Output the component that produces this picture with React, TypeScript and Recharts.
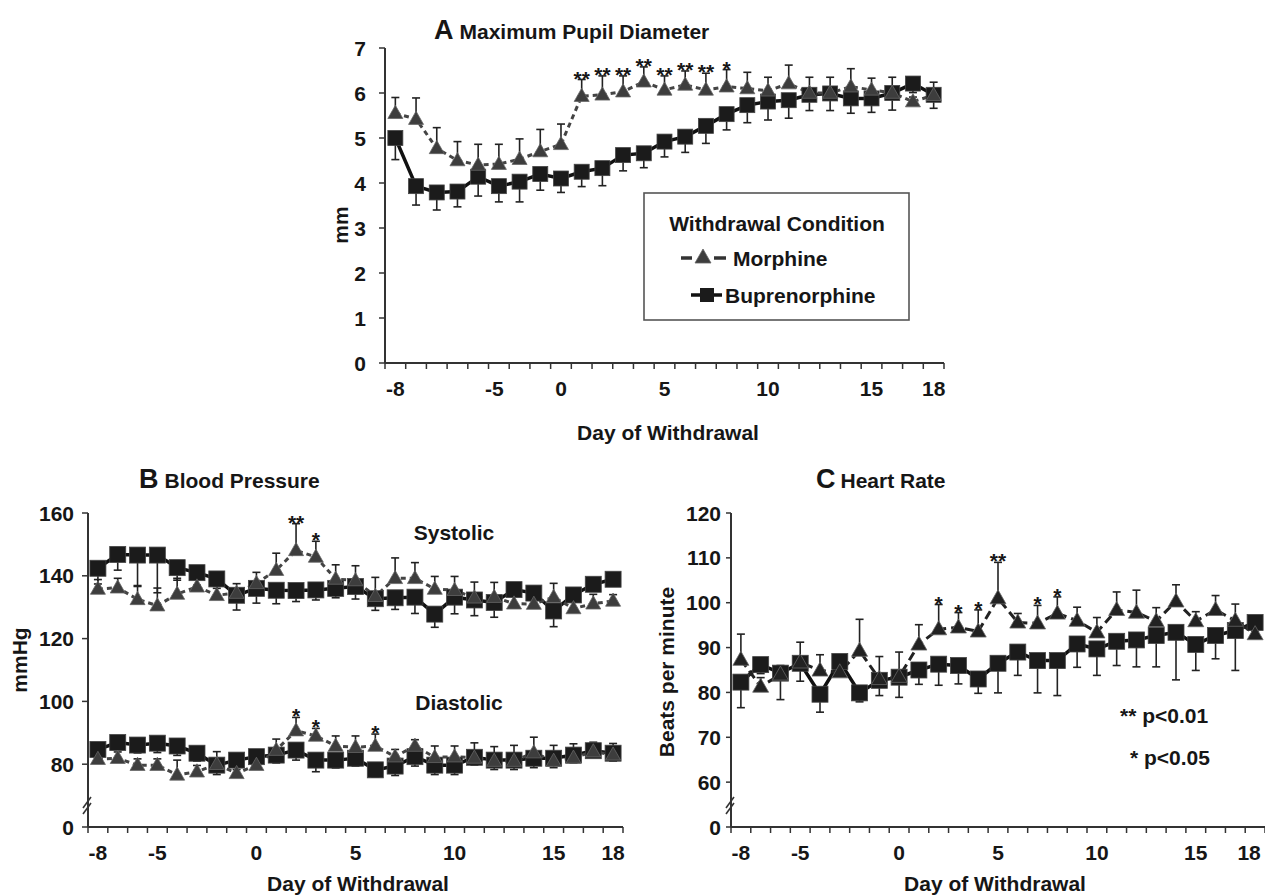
import React from "react";
import { LineChart, Line, XAxis, YAxis, ErrorBar, LabelList } from "recharts";

const FONT = '"Liberation Sans", Arial, Helvetica, sans-serif';
const INK = "#161616";
const AXIS = "#333";

// ---------- shared x categories ----------
const DAYS = [-8, -7, -6, -5, -4, -3, -2, -1, 0, 1, 2, 3, 4, 5, 6, 7, 8, 9, 10, 11, 12, 13, 14, 15, 16, 17, 18];
const X_LABEL_DAYS = [-8, -5, 0, 5, 10, 15, 18];

// ---------- Panel A: Maximum pupil diameter (mm) ----------
const PUPIL_TICKS = [0, 1, 2, 3, 4, 5, 6, 7];
const PUPIL_TICK_LABELS = ["0", "1", "2", "3", "4", "5", "6", "7"];
const pupilMorphine = [5.55, 5.42, 4.77, 4.5, 4.4, 4.42, 4.53, 4.7, 4.86, 5.93, 5.96, 6.03, 6.25, 6.07, 6.18, 6.07, 6.14, 6.1, 6.05, 6.21, 6.0, 6.0, 6.14, 6.07, 6.0, 5.81, 5.95];
const pupilMorphineSE = [0.35, 0.47, 0.46, 0.42, 0.46, 0.44, 0.45, 0.49, 0.45, 0.37, 0.42, 0.35, 0.33, 0.31, 0.31, 0.37, 0.38, 0.36, 0.3, 0.41, 0.35, 0.35, 0.4, 0.26, 0.35, 0.1, 0.29];
const pupilBup = [5.0, 3.93, 3.79, 3.81, 4.14, 3.93, 4.03, 4.2, 4.1, 4.25, 4.33, 4.62, 4.66, 4.92, 5.03, 5.27, 5.53, 5.73, 5.81, 5.84, 5.96, 5.99, 5.88, 5.88, 6.0, 6.21, 5.96];
const pupilBupSE = [0.48, 0.42, 0.39, 0.34, 0.43, 0.35, 0.45, 0.36, 0.31, 0.33, 0.39, 0.35, 0.32, 0.34, 0.35, 0.39, 0.35, 0.39, 0.41, 0.4, 0.35, 0.38, 0.33, 0.31, 0.38, 0.2, 0.3];
const pupilSig = ["", "", "", "", "", "", "", "", "", "**", "**", "**", "**", "**", "**", "**", "*", "", "", "", "", "", "", "", "", "", ""];

// ---------- Panel B: Blood pressure (mmHg), broken axis: lowest tick shows "0" ----------
const BP_TICKS = [60, 80, 100, 120, 140, 160];
const BP_TICK_LABELS = ["0", "80", "100", "120", "140", "160"];
const sysMorphine = [135.8, 136.2, 132.5, 130.5, 134.2, 136.5, 133.8, 134.5, 137.6, 141.8, 148.1, 146, 139, 138.5, 133.5, 139.2, 139.2, 135.8, 135.4, 133, 133.2, 131.1, 131, 133.2, 129.6, 131.1, 132];
const sysMorphineSE = [3, 3, 4.4, 5.6, 5, 3, 3, 3, 3.5, 5.4, 8.5, 5, 4.5, 4.7, 6, 6.5, 5, 4, 4.4, 5, 4.7, 3, 3, 4.4, 3, 3, 2];
const sysBup = [142.4, 146.8, 146.6, 146.6, 142.6, 141, 139, 133.8, 136, 135.4, 135.3, 135.5, 136, 136.6, 132.7, 133, 133.2, 127.8, 133.2, 132.3, 131.5, 135.6, 134.5, 128.8, 133.9, 137.3, 138.9];
const sysBupSE = [5, 5, 10, 12, 4, 4, 3, 4.7, 4.7, 4.3, 3.5, 3.2, 3, 4, 3.7, 3.7, 5.2, 4.2, 5.3, 5, 4.7, 2, 2.3, 5, 2, 1, 2];
const sysSig = ["", "", "", "", "", "", "", "", "", "", "**", "*", "", "", "", "", "", "", "", "", "", "", "", "", "", "", ""];
const diaMorphine = [81.6, 81.9, 79.7, 79.7, 76.6, 77.6, 80, 77.1, 79.7, 84.5, 90.7, 89, 85.8, 85.4, 85.8, 82.4, 85.8, 82.2, 82.4, 82, 81, 81, 83.7, 81, 82, 84, 83];
const diaMorphineSE = [2, 2, 2, 2, 4.7, 2, 4, 2, 2, 3.5, 4.2, 2.4, 3.2, 3.6, 3.8, 2.3, 2, 3.6, 3.4, 4.8, 4.6, 5, 4.9, 5, 4.5, 3, 3.6];
const diaBup = [84.7, 86.9, 86.1, 86.7, 85.8, 83.5, 79.7, 81.3, 82.4, 82.9, 84.5, 81.3, 81.3, 81.9, 78.2, 79.4, 82.4, 79.7, 79.7, 82.2, 81.3, 81.3, 81.9, 81.9, 82.9, 84.3, 83.5];
const diaBupSE = [2.5, 2, 2.5, 3, 3, 2.5, 3, 3, 2.5, 2.5, 3.2, 3.7, 2.5, 2.5, 2.2, 3, 3, 3, 3, 2.5, 3, 3, 3, 3, 2.5, 2, 2.5];
const diaSig = ["", "", "", "", "", "", "", "", "", "", "*", "*", "", "", "*", "", "", "", "", "", "", "", "", "", "", "", ""];

// ---------- Panel C: Heart rate (beats per minute), broken axis ----------
const HR_TICKS = [50, 60, 70, 80, 90, 100, 110, 120];
const HR_TICK_LABELS = ["0", "60", "70", "80", "90", "100", "110", "120"];
const hrMorphine = [87.3, 81.3, 84, 86.7, 84.9, 84.5, 89.3, 83, 83.5, 90.7, 94.1, 94.5, 93.6, 101, 95.6, 95.4, 97.6, 96, 93.4, 98.4, 97.8, 95.9, 100.3, 95.9, 98.4, 96, 93];
const hrMorphineSE = [5.7, 2, 2, 4.5, 3.5, 2, 7, 5, 5.5, 4.4, 5.5, 3.3, 4.8, 8, 2, 4, 3.7, 3, 3.3, 4, 5, 3, 3.7, 2.1, 3.2, 3.7, 1.5];
const hrBup = [82.3, 86.2, 84.3, 86.5, 79.6, 86.9, 79.9, 82.7, 83.4, 85, 86.3, 86, 83, 86.5, 89, 87.1, 87.1, 90.8, 89.7, 91.4, 91.7, 92.7, 93.4, 90.7, 92.7, 93.8, 95.6];
const hrBupSE = [5.7, 2, 5.9, 4, 4, 2, 2, 3.4, 4.5, 3.2, 4.7, 4.1, 3.2, 6.6, 5.2, 7.2, 7.8, 5.2, 5.9, 5.4, 6, 7, 10.6, 5.8, 5.2, 8.9, 2];
const hrSig = ["", "", "", "", "", "", "", "", "", "", "*", "*", "*", "**", "", "*", "*", "", "", "", "", "", "", "", "", "", ""];

// ---------- table builders ----------
const buildRows = (mor: number[], morSE: number[], bup: number[], bupSE: number[], sig: string[], p: string) =>
  DAYS.map((d, i) => ({
    day: d,
    [`${p}mor`]: mor[i],
    [`${p}morErr`]: [0, morSE[i]],
    [`${p}morCap`]: mor[i] + morSE[i],
    [`${p}sig`]: sig[i],
    [`${p}bup`]: bup[i],
    [`${p}bupErr`]: [bupSE[i], 0],
  }));

const pupilRows = buildRows(pupilMorphine, pupilMorphineSE, pupilBup, pupilBupSE, pupilSig, "");
const sysRows = buildRows(sysMorphine, sysMorphineSE, sysBup, sysBupSE, sysSig, "s");
const diaRows = buildRows(diaMorphine, diaMorphineSE, diaBup, diaBupSE, diaSig, "d");
const bpRows = sysRows.map((r, i) => ({ ...r, ...diaRows[i] }));
const hrRows = buildRows(hrMorphine, hrMorphineSE, hrBup, hrBupSE, hrSig, "");

const X_TICK_MARKS = DAYS.map((d) => d - 0.5).concat([DAYS[DAYS.length - 1] + 0.5]);
const X_TICKS = [...X_TICK_MARKS, ...X_LABEL_DAYS].sort((a, b) => a - b);

// ---------- renderers ----------
const makeXTick = (shift: Record<string, number>) => (props: any) => {
  const { x, y, payload } = props;
  const v = payload.value;
  if (X_LABEL_DAYS.includes(v)) {
    return (
      <text x={x + (shift[String(v)] || 0)} y={y + 33} textAnchor="middle" fill={INK} fontSize={21} fontWeight={700} fontFamily={FONT}>
        {String(v)}
      </text>
    );
  }
  return <line x1={x} x2={x} y1={y} y2={y + 6} stroke={AXIS} strokeWidth={1.5} />;
};

const makeYTick = (values: number[], labels: string[], axisOffset: number, breakGap?: number) => (props: any) => {
  const { x, y, payload } = props;
  const i = values.indexOf(payload.value);
  const lab = i >= 0 ? labels[i] : String(payload.value);
  const ax = x + axisOffset;
  const showBreak = breakGap !== undefined && payload.value === values[0];
  return (
    <g>
      <text x={x} y={y + 7.5} textAnchor="end" fill={INK} fontSize={21} fontWeight={700} fontFamily={FONT}>
        {lab}
      </text>
      {showBreak ? (
        <g stroke={AXIS} strokeWidth={1.6}>
          <line x1={ax - 5} y1={y - breakGap! + 2} x2={ax + 3} y2={y - breakGap! - 9} />
          <line x1={ax - 5} y1={y - breakGap! + 8} x2={ax + 3} y2={y - breakGap! - 3} />
        </g>
      ) : null}
    </g>
  );
};

const squareDot = (size: number, fill: string) => (p: any) => {
  const { cx, cy, index } = p;
  if (cx == null || cy == null) return <g key={`s${index}`} />;
  return <rect key={`s${index}`} x={cx - size / 2} y={cy - size / 2} width={size} height={size} fill={fill} stroke="#444" strokeWidth={0.8} />;
};

const triangleDot = (size: number, fill: string) => (p: any) => {
  const { cx, cy, index } = p;
  if (cx == null || cy == null) return <g key={`t${index}`} />;
  const h = size * 0.88;
  return (
    <polygon
      key={`t${index}`}
      points={`${cx},${cy - h * 0.6} ${cx - size / 2},${cy + h * 0.4} ${cx + size / 2},${cy + h * 0.4}`}
      fill={fill}
      stroke="#666"
      strokeWidth={0.8}
    />
  );
};

const SigLabel = (props: any) => {
  const { value, index } = props;
  const x = props.x ?? props.viewBox?.x;
  const y = props.y ?? props.viewBox?.y;
  if (!value || x == null || y == null) return null;
  return (
    <text key={`sig${index}`} x={x} y={y + 6} textAnchor="middle" fontSize={21} fontWeight={700} fontFamily={FONT} fill={INK}>
      {value}
    </text>
  );
};

const axisLineStyle = { stroke: AXIS, strokeWidth: 2 };
const tickLineStyle = { stroke: AXIS, strokeWidth: 1.5 };

type SeriesProps = { p: string; sq: number; tri: number; triFill: string; dash: string; morStroke: string };

const seriesPair = ({ p, sq, tri, triFill, dash, morStroke }: SeriesProps) => [
  <Line key={`${p}bup`} type="linear" dataKey={`${p}bup`} stroke="#111" strokeWidth={3.5} dot={squareDot(sq, "#1b1b1b")} activeDot={false} isAnimationActive={false} legendType="none">
    <ErrorBar dataKey={`${p}bupErr`} direction="y" width={4} stroke="#222" strokeWidth={1.6} isAnimationActive={false} />
  </Line>,
  <Line key={`${p}mor`} type="linear" dataKey={`${p}mor`} stroke={morStroke} strokeWidth={3} strokeDasharray={dash} dot={triangleDot(tri, triFill)} activeDot={false} isAnimationActive={false} legendType="none">
    <ErrorBar dataKey={`${p}morErr`} direction="y" width={4} stroke="#222" strokeWidth={1.6} isAnimationActive={false} />
  </Line>,
  <Line key={`${p}cap`} type="linear" dataKey={`${p}morCap`} stroke="none" dot={false} activeDot={false} isAnimationActive={false} legendType="none">
    <LabelList dataKey={`${p}sig`} content={SigLabel} />
  </Line>,
];

const txt = { fontFamily: FONT, fontWeight: 700, fill: INK } as const;

export default function App() {
  return (
    <div style={{ position: "absolute", left: 0, top: 0, width: 1265, height: 895, background: "#fff", overflow: "hidden" }}>
      {/* Panel A */}
      <div style={{ position: "absolute", left: 300, top: 0 }}>
        <LineChart width={660} height={420} data={pupilRows} margin={{ top: 48, right: 16, bottom: 0, left: 0 }}>
          <XAxis dataKey="day" type="number" domain={[-8.5, 18.5]} ticks={X_TICKS} interval={0} tickSize={0} tickMargin={0} tickLine={false} axisLine={axisLineStyle} tick={makeXTick({ "-5": 37 })} height={57} />
          <YAxis type="number" domain={[0, 7]} ticks={PUPIL_TICKS} interval={0} width={85} tickSize={6} tickMargin={13} tickLine={tickLineStyle} axisLine={axisLineStyle} tick={makeYTick(PUPIL_TICKS, PUPIL_TICK_LABELS, 19)} />
          {seriesPair({ p: "", sq: 15, tri: 15, triFill: "#3d3d3d", dash: "5 4", morStroke: "#444" })}
        </LineChart>
      </div>

      {/* Panel B */}
      <div style={{ position: "absolute", left: 0, top: 480 }}>
        <LineChart width={640} height={415} data={bpRows} margin={{ top: 33, right: 17, bottom: 35, left: 0 }}>
          <XAxis dataKey="day" type="number" domain={[-8.5, 18.5]} ticks={X_TICKS} interval={0} tickSize={0} tickMargin={0} tickLine={false} axisLine={axisLineStyle} tick={makeXTick({})} height={33} />
          <YAxis type="number" domain={[60, 160]} ticks={BP_TICKS} interval={0} width={88} tickSize={6} tickMargin={8} tickLine={tickLineStyle} axisLine={axisLineStyle} tick={makeYTick(BP_TICKS, BP_TICK_LABELS, 14, 21)} />
          {seriesPair({ p: "s", sq: 16, tri: 15, triFill: "#3d3d3d", dash: "5 4", morStroke: "#444" })}
          {seriesPair({ p: "d", sq: 16, tri: 15, triFill: "#3d3d3d", dash: "5 4", morStroke: "#444" })}
        </LineChart>
      </div>

      {/* Panel C */}
      <div style={{ position: "absolute", left: 640, top: 480 }}>
        <LineChart width={625} height={415} data={hrRows} margin={{ top: 33, right: 0, bottom: 35, left: 0 }}>
          <XAxis dataKey="day" type="number" domain={[-8.5, 18.5]} ticks={X_TICKS} interval={0} tickSize={0} tickMargin={0} tickLine={false} axisLine={axisLineStyle} tick={makeXTick({ "18": -6 })} height={33} />
          <YAxis type="number" domain={[50, 120]} ticks={HR_TICKS} interval={0} width={91} tickSize={5} tickMargin={5} tickLine={tickLineStyle} axisLine={axisLineStyle} tick={makeYTick(HR_TICKS, HR_TICK_LABELS, 10, 21)} />
          {seriesPair({ p: "", sq: 16, tri: 16, triFill: "#222", dash: "9 5", morStroke: "#222" })}
        </LineChart>
      </div>

      {/* Text overlay: titles, axis titles, legend, annotations */}
      <svg width={1265} height={895} style={{ position: "absolute", left: 0, top: 0, pointerEvents: "none" }}>
        <text x={434} y={39} {...txt}>
          <tspan fontSize={27}>A</tspan>
          <tspan fontSize={21} dx={6}>Maximum Pupil Diameter</tspan>
        </text>
        <text x={139} y={488} {...txt}>
          <tspan fontSize={27}>B</tspan>
          <tspan fontSize={21} dx={6}>Blood Pressure</tspan>
        </text>
        <text x={816} y={488} {...txt}>
          <tspan fontSize={27}>C</tspan>
          <tspan fontSize={21} dx={5}>Heart Rate</tspan>
        </text>

        <text x={668} y={440} textAnchor="middle" fontSize={21} {...txt}>Day of Withdrawal</text>
        <text x={358} y={891} textAnchor="middle" fontSize={21} {...txt}>Day of Withdrawal</text>
        <text x={995} y={891} textAnchor="middle" fontSize={21} {...txt}>Day of Withdrawal</text>

        <text transform="translate(348,225) rotate(-90)" textAnchor="middle" fontSize={21} {...txt}>mm</text>
        <text transform="translate(27,660) rotate(-90)" textAnchor="middle" fontSize={21} {...txt}>mmHg</text>
        <text transform="translate(674,672) rotate(-90)" textAnchor="middle" fontSize={21} {...txt}>Beats per minute</text>

        <text x={454} y={540} textAnchor="middle" fontSize={21} {...txt}>Systolic</text>
        <text x={459} y={710} textAnchor="middle" fontSize={21} {...txt}>Diastolic</text>

        <text x={1120} y={723} fontSize={21} {...txt}>** p&lt;0.01</text>
        <text x={1130} y={765} fontSize={21} {...txt}>* p&lt;0.05</text>

        {/* Legend box */}
        <rect x={644} y={193} width={265} height={127} fill="#fff" stroke="#555" strokeWidth={1.6} />
        <text x={777} y={231} textAnchor="middle" fontSize={21} {...txt}>Withdrawal Condition</text>
        <line x1={681} y1={258} x2={692} y2={258} stroke="#333" strokeWidth={3.5} />
        <polygon points="703,249 695,263 711,263" fill="#3d3d3d" stroke="#666" strokeWidth={0.8} />
        <line x1={714} y1={258} x2={726} y2={258} stroke="#333" strokeWidth={3.5} />
        <text x={733} y={266} fontSize={21} {...txt}>Morphine</text>
        <line x1={691} y1={295} x2={722} y2={295} stroke="#111" strokeWidth={3.5} />
        <rect x={700} y={288} width={14} height={14} fill="#1b1b1b" />
        <text x={725} y={303} fontSize={21} {...txt}>Buprenorphine</text>
      </svg>
    </div>
  );
}
